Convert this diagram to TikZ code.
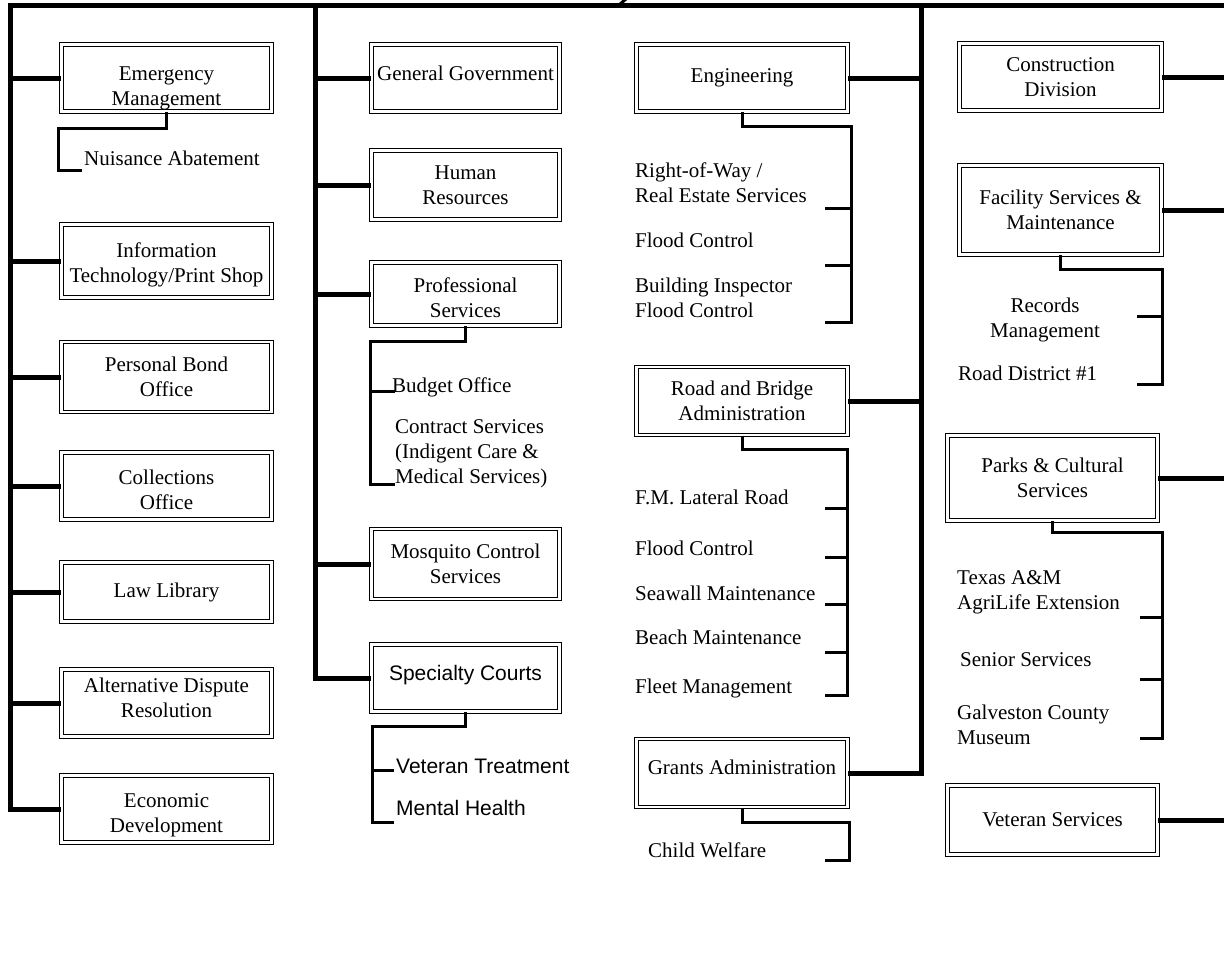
\documentclass[tikz,border=0pt]{standalone}
\usepackage{fontspec}
\setmainfont{Liberation Serif}
\newfontfamily\arialf{Liberation Sans}
\newcommand\dgfont{\fontsize{21}{25}\selectfont}
\newcommand\lowtxt[2]{\raisebox{-#1}[\height][\depth]{\begin{tabular}{@{}c@{}}#2\end{tabular}}}
\begin{document}
\begin{tikzpicture}[x=1pt,y=-1pt,
  box/.style={draw, double, double distance=2.4pt, line width=1.2pt, align=center, inner sep=0pt, font=\dgfont},
  bus/.style={line width=5pt},
  sub/.style={line width=3pt},
  item/.style={font=\dgfont, inner sep=0pt, anchor=west, align=left},
  itema/.style={font=\arialf\dgfont, inner sep=0pt, anchor=west, align=left}]
\useasboundingbox (0,0) rectangle (1224,975);
% bus coordinates
\coordinate (TL) at (10,5);
\coordinate (TR) at (1224,5);
\coordinate (T2) at (315,5);
\coordinate (T3) at (921,5);
\coordinate (TM) at (619,5);
\coordinate (TMu) at (626,-1);
% column 1
\node[box, minimum width=210, minimum height=67] (em) at (166.5,78) {\lowtxt{10pt}{Emergency\\Management}};
\node[box, minimum width=210, minimum height=73] (it) at (166.5,261) {\lowtxt{4pt}{Information\\Technology/Print Shop}};
\node[box, minimum width=210, minimum height=70] (pb) at (166.5,377) {Personal Bond\\Office};
\node[box, minimum width=210, minimum height=67] (co) at (166.5,486) {\lowtxt{6pt}{Collections\\Office}};
\node[box, minimum width=210, minimum height=59] (ll) at (166.5,592) {Law Library};
\node[box, minimum width=210, minimum height=67] (ad) at (166.5,703) {\lowtxt{-3pt}{Alternative Dispute\\Resolution}};
\node[box, minimum width=210, minimum height=67] (ed) at (166.5,809) {\lowtxt{6pt}{Economic\\Development}};
% column 2
\node[box, minimum width=188, minimum height=67] (gg) at (465.5,78) {\lowtxt{-3pt}{General Government}};
\node[box, minimum width=188, minimum height=69] (hr) at (465.5,185) {Human\\Resources};
\node[box, minimum width=188, minimum height=63] (ps) at (465.5,294) {\lowtxt{6pt}{Professional\\Services}};
\node[box, minimum width=188, minimum height=70] (mc) at (465.5,564) {Mosquito Control\\Services};
\node[box, minimum width=188, minimum height=67, font=\arialf\dgfont] (sc) at (465.5,678) {\lowtxt{-3pt}{Specialty Courts}};
% column 3
\node[box, minimum width=211, minimum height=67] (en) at (742,78) {Engineering};
\node[box, minimum width=211, minimum height=68] (rb) at (742,401) {Road and Bridge\\Administration};
\node[box, minimum width=211, minimum height=68] (ga) at (742,773) {\lowtxt{-4pt}{Grants Administration}};
% column 4
\node[box, minimum width=202, minimum height=67] (cd) at (1060.5,77) {Construction\\Division};
\node[box, minimum width=202, minimum height=89] (fs) at (1060.5,210) {Facility Services \&\\Maintenance};
\node[box, minimum width=210, minimum height=85] (pc) at (1052.5,478) {\lowtxt{2pt}{Parks \& Cultural\\Services}};
\node[box, minimum width=210, minimum height=69] (vs) at (1052.5,820) {Veteran Services};
% sub items
\node[item] (na) at (84,158) {Nuisance Abatement};
\node[item] (bo) at (392,387) {Budget Office};
\node[item] (cs) at (395,454) {Contract Services\\(Indigent Care \&\\Medical Services)};
\node[itema] (vt) at (396,766) {Veteran Treatment};
\node[itema] (mh) at (396,808) {Mental Health};
\node[item] (rw) at (635,182.5) {Right-of-Way /\\Real Estate Services};
\node[item] (fc1) at (635,240) {Flood Control};
\node[item] (bi) at (635,298) {Building Inspector\\Flood Control};
\node[item] (fm) at (635,497) {F.M. Lateral Road};
\node[item] (fc2) at (635,548) {Flood Control};
\node[item] (sw) at (635,593) {Seawall Maintenance};
\node[item] (bm) at (635,637) {Beach Maintenance};
\node[item] (fl) at (635,688) {Fleet Management};
\node[item] (cw) at (648,850) {Child Welfare};
\node[font=\dgfont, inner sep=0pt, align=center] (rm) at (1045,320) {Records\\Management};
\node[item] (rd) at (958,373) {Road District \#1};
\node[item] (ta) at (957,592) {Texas A\&M\\AgriLife Extension};
\node[item] (ss) at (960,660) {Senior Services};
\node[item] (gc) at (957,725) {Galveston County\\Museum};
% main buses
\draw[bus] (TR) -- (TL) |- (ed.west);
\draw[bus] (T2) |- (sc.west);
\draw[bus] (T3) |- (ga.east);
\draw[line width=3pt, line cap=round] (TM) -- (TMu);
\foreach \n in {em,it,pb,co,ll,ad} \draw[bus] (\n.west) -- (\n.west -| TL);
\foreach \n in {gg,hr,ps,mc} \draw[bus] (\n.west) -- (\n.west -| T2);
\foreach \n in {en,rb} \draw[bus] (\n.east) -- (\n.east -| T3);
\foreach \n in {cd,fs,pc,vs} \draw[bus] (\n.east) -- (\n.east -| TR);
% sub brackets
\coordinate (emA) at (58,128); \coordinate (naT) at (82,170);
\draw[sub] (em.south) |- (emA) |- (naT);
\coordinate (psA) at (370,341); \coordinate (psT1) at (395,391); \coordinate (psT2) at (395,484);
\draw[sub] (ps.south) |- (psA) |- (psT2);
\draw[sub] (psT1) -- (psT1 -| psA);
\coordinate (scA) at (372,726); \coordinate (scT1) at (394,770); \coordinate (scT2) at (394,822);
\draw[sub] (sc.south) |- (scA) |- (scT2);
\draw[sub] (scT1) -- (scT1 -| scA);
\coordinate (enA) at (851,126); \coordinate (enT1) at (825,208); \coordinate (enT2) at (825,265); \coordinate (enT3) at (825,322);
\draw[sub] (en.south) |- (enA) |- (enT3);
\foreach \t in {enT1,enT2} \draw[sub] (\t) -- (\t -| enA);
\coordinate (rbA) at (847,449); \coordinate (rbT1) at (825,508); \coordinate (rbT2) at (825,557);
\coordinate (rbT3) at (825,604); \coordinate (rbT4) at (825,652); \coordinate (rbT5) at (825,695);
\draw[sub] (rb.south) |- (rbA) |- (rbT5);
\foreach \t in {rbT1,rbT2,rbT3,rbT4} \draw[sub] (\t) -- (\t -| rbA);
\coordinate (gaA) at (849,822); \coordinate (gaT) at (825,860);
\draw[sub] (ga.south) |- (gaA) |- (gaT);
\coordinate (fsA) at (1162,269); \coordinate (fsT1) at (1137,316); \coordinate (fsT2) at (1137,384);
\draw[sub] (fs.south) |- (fsA) |- (fsT2);
\draw[sub] (fsT1) -- (fsT1 -| fsA);
\coordinate (pcA) at (1162,532); \coordinate (pcT1) at (1140,617); \coordinate (pcT2) at (1140,679); \coordinate (pcT3) at (1140,738);
\draw[sub] (pc.south) |- (pcA) |- (pcT3);
\foreach \t in {pcT1,pcT2} \draw[sub] (\t) -- (\t -| pcA);
\end{tikzpicture}
\end{document}
